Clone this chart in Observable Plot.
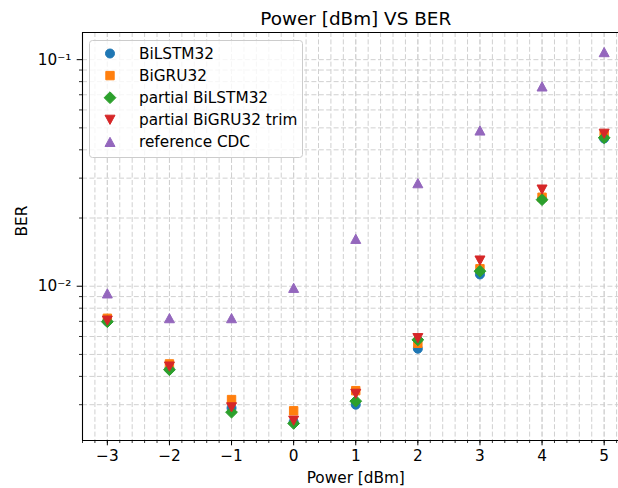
<!DOCTYPE html>
<html><head><meta charset="utf-8">
<script src="https://cdn.jsdelivr.net/npm/d3@7"></script>
<script src="https://cdn.jsdelivr.net/npm/@observablehq/plot@0.6"></script>
<style>body{margin:0;background:#fff} #chart svg{font-family:"DejaVu Sans",sans-serif;overflow:hidden;display:block}</style>
</head><body><div id="chart"></div>
<script>
// ---- data ----
const power = [-3, -2, -1, 0, 1, 2, 3, 4, 5];
const seriesNames = ["BiLSTM32", "BiGRU32", "partial BiLSTM32", "partial BiGRU32 trim", "reference CDC"];
const bilstm32 = [0.00700, 0.00432, 0.00290, 0.00252, 0.00300, 0.00530, 0.01127, 0.02430, 0.04490];
const bigru32 = [0.00722, 0.00454, 0.00316, 0.00282, 0.00346, 0.00560, 0.01194, 0.02470, 0.04680];
const partialBilstm32 = [0.00697, 0.00428, 0.00278, 0.00248, 0.00311, 0.00580, 0.01165, 0.02410, 0.04520];
const partialBigru32Trim = [0.00705, 0.00442, 0.00292, 0.00255, 0.00335, 0.00590, 0.01298, 0.02670, 0.04710];
const referenceCdc = [0.00930, 0.00723, 0.00723, 0.00984, 0.01619, 0.02850, 0.04870, 0.07620, 0.10800];
const xTickValues = [-3, -2, -1, 0, 1, 2, 3, 4, 5];
const xTickLabels = ["\u22123", "\u22122", "\u22121", "0", "1", "2", "3", "4", "5"];
const yTickValues = [0.01, 0.1];
const yTickLabels = ["10\u207B\u00B2", "10\u207B\u00B9"];
const yMinorValues = [0.003, 0.004, 0.005, 0.006, 0.007, 0.008, 0.009, 0.02, 0.03, 0.04, 0.05, 0.06, 0.07, 0.08, 0.09];
const titleText = "Power [dBm] VS BER";
const xLabel = "Power [dBm]";
const yLabel = "BER";

// ---- styling ----
const colors = ["#1f77b4", "#ff7f0e", "#2ca02c", "#d62728", "#9467bd"];
const xDomain = [-3.4, 5.4];
const yDomain = [0.002085, 0.1318];
const xMinorValues = d3.range(-3.4, 5.41, 0.2).map(v => Math.round(v * 10) / 10);

const symCircle = {draw(c) { c.moveTo(4.5, 0); c.arc(0, 0, 4.5, 0, 2 * Math.PI); }};
const symSquare = {draw(c) { const a = 4.2; c.moveTo(-a, -a); c.lineTo(a, -a); c.lineTo(a, a); c.lineTo(-a, a); c.closePath(); }};
const symDiamond = {draw(c) { const a = 5.9; c.moveTo(0, -a); c.lineTo(a, 0); c.lineTo(0, a); c.lineTo(-a, 0); c.closePath(); }};
const symTriDown = {draw(c) { const w = 5.0, h = 4.6; c.moveTo(-w, -h); c.lineTo(w, -h); c.lineTo(0, h); c.closePath(); }};
const symTriUp = {draw(c) { const w = 5.0, h = 4.6; c.moveTo(0, -h); c.lineTo(w, h); c.lineTo(-w, h); c.closePath(); }};
const symbols = [symCircle, symSquare, symDiamond, symTriDown, symTriUp];

const seriesValues = [bilstm32, bigru32, partialBilstm32, partialBigru32Trim, referenceCdc];
const seriesData = seriesValues.map(vals => power.map((p, i) => ({x: p, y: vals[i]})));

const gridStyle = {stroke: "#d0d0d0", strokeWidth: 1, strokeDasharray: "5,2.4"};
const fs = 15.3;

const plot = Plot.plot({
  width: 618,
  height: 488,
  marginLeft: 82,
  marginRight: -10.5,
  marginTop: 32,
  marginBottom: 48,
  style: {fontFamily: "DejaVu Sans", background: "white"},
  x: {domain: xDomain},
  y: {type: "log", domain: yDomain},
  marks: [
    Plot.ruleX(xMinorValues, {...gridStyle}),
    Plot.ruleX(xTickValues, {...gridStyle}),
    Plot.ruleY(yMinorValues, {...gridStyle}),
    Plot.ruleY(yTickValues, {...gridStyle}),
    // spines
    Plot.ruleX([xDomain[0]], {stroke: "black", strokeWidth: 1.1}),
    Plot.ruleY([yDomain[0]], {stroke: "black", strokeWidth: 1.1}),
    Plot.ruleY([yDomain[1]], {stroke: "black", strokeWidth: 1.1}),
    // tick marks
    Plot.axisX(xMinorValues, {tickSize: 3, tickFormat: () => "", label: null, strokeWidth: 0.8}),
    Plot.axisX(xTickValues, {tickSize: 5.3, tickFormat: () => "", label: null, strokeWidth: 1}),
    Plot.axisY(yMinorValues, {tickSize: 3, tickFormat: () => "", label: null, strokeWidth: 0.8}),
    Plot.axisY(yTickValues, {tickSize: 5.3, tickFormat: () => "", label: null, strokeWidth: 1}),
    // tick labels
    Plot.text(xTickValues, {x: d => d, text: (d, i) => xTickLabels[i], frameAnchor: "bottom", lineAnchor: "top",
      dy: 10, fontSize: fs, fill: "black"}),
    Plot.text(yTickValues, {y: d => d, text: (d, i) => yTickLabels[i], frameAnchor: "left", textAnchor: "end",
      dx: -11, fontSize: fs, fill: "black"}),
    // data
    ...seriesData.map((data, k) => Plot.dot(data, {
      x: "x", y: "y", r: 3, symbol: symbols[k], fill: colors[k], stroke: colors[k], strokeWidth: 1
    })),
    // labels
    Plot.text([titleText], {frameAnchor: "top", lineAnchor: "bottom", dy: -8, fontSize: 18.4, fill: "black"}),
    Plot.text([xLabel], {frameAnchor: "bottom", lineAnchor: "bottom", dy: 42, fontSize: fs, fill: "black"}),
    Plot.text([yLabel], {frameAnchor: "left", dx: -60, rotate: -90, fontSize: fs, fill: "black"})
  ]
});
document.getElementById("chart").appendChild(plot);

// ---- legend (inside the axes, upper left) ----
const svg = d3.select(plot);
const lg = svg.append("g");
lg.append("rect").attr("x", 89.5).attr("y", 40.5).attr("width", 213).attr("height", 117).attr("rx", 3)
  .attr("fill", "white").attr("fill-opacity", 0.8).attr("stroke", "#cccccc").attr("stroke-width", 1);
seriesNames.forEach((name, i) => {
  const cy = 53.5 + i * 22.1;
  lg.append("path").attr("transform", `translate(110,${cy})`)
    .attr("d", d3.symbol().type(symbols[i])())
    .attr("fill", colors[i]).attr("stroke", colors[i]).attr("stroke-width", 1);
  lg.append("text").attr("x", 139).attr("y", cy).attr("dy", "0.36em")
    .style("font-family", "DejaVu Sans").style("font-size", fs + "px").style("text-anchor", "start")
    .attr("fill", "black").text(name);
});
</script>
</body></html>
